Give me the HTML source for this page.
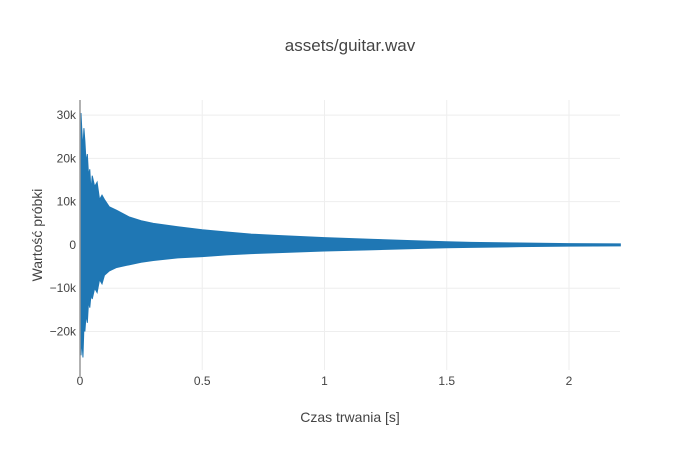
<!DOCTYPE html>
<html><head><meta charset="utf-8"><style>
body{margin:0;background:#fff;}
svg{display:block;font-family:"Liberation Sans",sans-serif;}
</style></head><body>
<svg id="chart" width="700" height="450" viewBox="0 0 700 450">
<text x="350" y="51" text-anchor="middle" font-size="17" fill="#444">assets/guitar.wav</text>
<g id="grid"></g>
<g id="marks"></g>
<g id="axes"></g>
<text x="350" y="422" text-anchor="middle" font-size="14" fill="#444">Czas trwania [s]</text>
<text x="42" y="235" text-anchor="middle" font-size="14" fill="#444" transform="rotate(-90 42 235)">Wartość próbki</text>
</svg>
<script>
const times = [0,0.004,0.008,0.012,0.016,0.02,0.025,0.03,0.035,0.04,0.045,0.05,0.06,0.07,0.08,0.09,0.1,0.12,0.15,0.2,0.25,0.3,0.4,0.5,0.6,0.7,0.8,1.0,1.2,1.4,1.5,1.6,1.8,2.0,2.21];
const maxVals = [18000,30500,26000,22000,27000,24000,19000,21000,16000,17500,12500,16000,13500,14500,10500,11500,10500,8800,8000,6500,5600,5000,4200,3500,3000,2500,2200,1700,1300,900,750,600,450,300,250];
const minVals = [-20000,-25500,-22000,-26000,-19000,-20000,-16000,-18000,-13000,-14500,-11500,-12500,-10000,-11000,-8000,-9000,-7000,-6000,-5200,-4600,-4000,-3600,-3000,-2700,-2300,-2000,-1800,-1400,-1100,-800,-650,-550,-400,-280,-200];
const xTicks = [0,0.5,1,1.5,2];
const xTickLabels = ["0","0.5","1","1.5","2"];
const yTicks = [30000,20000,10000,0,-10000,-20000];
const yTickLabels = ["30k","20k","10k","0","−10k","−20k"];

const X0=80,X1=620,Y0=100,Y1=370;
const xMax=2.2086, yMin=-28900, yMax=33500;
const sx=v=>X0+(v/xMax)*(X1-X0);
const sy=v=>Y1-(v-yMin)/(yMax-yMin)*(Y1-Y0);
const NS="http://www.w3.org/2000/svg";
function mk(tag,attrs,parent){const e=document.createElementNS(NS,tag);for(const k in attrs)e.setAttribute(k,attrs[k]);parent.appendChild(e);return e;}
const grid=document.getElementById('grid'),marks=document.getElementById('marks'),axes=document.getElementById('axes');
xTicks.forEach((t,i)=>{
  if(t!==0){const l=mk('line',{x1:sx(t),x2:sx(t),y1:Y0,y2:Y1,stroke:'#eee','stroke-width':1},grid);
  
  }
  const tx=mk('text',{x:sx(t),y:Y1+15,'text-anchor':'middle','font-size':12,fill:'#444'},axes);
  tx.textContent=xTickLabels[i];
  
  
});
yTicks.forEach((t,i)=>{
  const l=mk('line',{x1:X0,x2:X1,y1:sy(t),y2:sy(t),stroke:'#eee','stroke-width':1},grid);
  
  
  const tx=mk('text',{x:X0-4,y:sy(t)+4,'text-anchor':'end','font-size':12,fill:'#444'},axes);
  tx.textContent=yTickLabels[i];
  
  
});
let pts=times.map((t,i)=>sx(t)+','+sy(maxVals[i]));
for(let i=times.length-1;i>=0;i--)pts.push(sx(times[i])+','+sy(minVals[i]));
const poly=mk('polygon',{points:pts.join(' '),fill:'#1f77b4',stroke:'#1f77b4','stroke-width':1},marks);


const ax=mk('line',{x1:X0,x2:X0,y1:Y0,y2:Y1+6,stroke:'#999','stroke-width':1.5},axes);


</script>
</body></html>
